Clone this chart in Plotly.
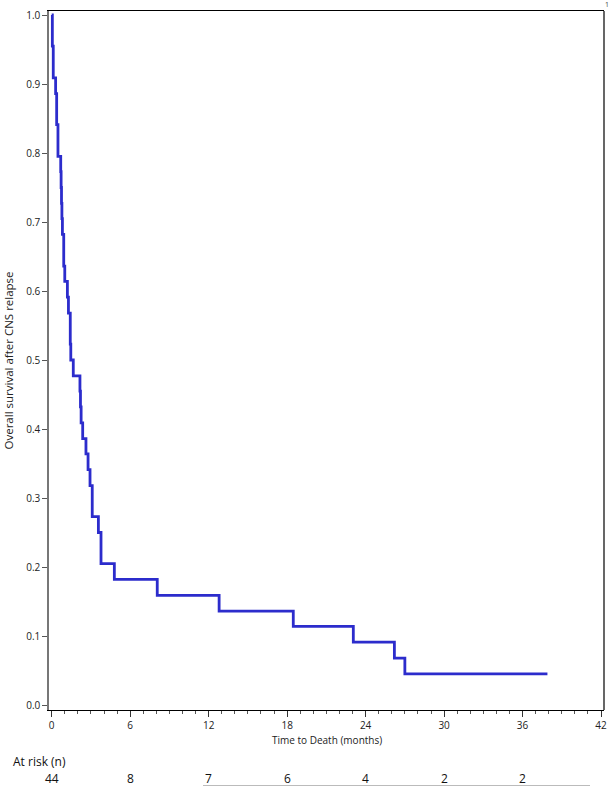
import plotly.graph_objects as go

# Kaplan-Meier step points (time in months, survival after event)
times = [0.0, 0.05, 0.12, 0.30, 0.38, 0.48, 0.69, 0.72, 0.75, 0.78, 0.82, 0.92, 1.00,
         1.20, 1.28, 1.42, 1.46, 1.65, 2.16, 2.20, 2.25, 2.37, 2.62, 2.78, 2.93, 3.10,
         3.57, 3.77, 4.79, 8.07, 12.80, 18.47, 23.06, 26.20, 27.00, 37.90]
survival = [1.000, 0.955, 0.909, 0.886, 0.841, 0.795, 0.773, 0.750, 0.727, 0.705, 0.682,
            0.636, 0.614, 0.591, 0.568, 0.523, 0.500, 0.477, 0.455, 0.432, 0.409, 0.386,
            0.364, 0.341, 0.318, 0.273, 0.250, 0.205, 0.182, 0.159, 0.136, 0.114, 0.091,
            0.068, 0.045, 0.045]

x_ticks = [0, 6, 12, 18, 24, 30, 36, 42]
y_ticks = [0.0, 0.1, 0.2, 0.3, 0.4, 0.5, 0.6, 0.7, 0.8, 0.9, 1.0]
risk_times = [0, 6, 12, 18, 24, 30, 36]
at_risk = [44, 8, 7, 6, 4, 2, 2]

FONT = "Open Sans"
H, W = 786, 610
ML, MR, MT, MB = 49, 6, 11, 76
PH = H - MT - MB
PW = W - ML - MR


def py(p):
    return (H - MB - p) / PH


def px(p):
    return (p - ML) / PW


fig = go.Figure()
fig.add_trace(go.Scatter(
    x=times, y=survival, mode="lines", line=dict(shape="hv", color="rgb(44,44,204)", width=2.8),
    showlegend=False, hoverinfo="skip"))

fig.update_layout(
    width=W, height=H,
    margin=dict(l=ML, r=MR, t=MT, b=MB, autoexpand=False),
    paper_bgcolor="white", plot_bgcolor="white",
    font=dict(family=FONT, size=10, color="#222"),
    xaxis=dict(range=[-0.206, 42.225], tickvals=x_ticks, ticktext=[str(v) for v in x_ticks],
               showgrid=False, zeroline=False, showline=True, linecolor="black", linewidth=1.2,
               mirror=True, ticks="outside", ticklen=6, tickcolor="#333", tickwidth=1,
               automargin=False,
               minor=dict(dtick=1, tick0=0, ticks="outside", ticklen=3, tickcolor="#555", showgrid=False),
               tickfont=dict(size=10, family=FONT)),
    yaxis=dict(range=[-0.00725, 1.0058], tickvals=y_ticks, ticktext=[f"{v:.1f}" for v in y_ticks],
               showgrid=False, zeroline=False, showline=True, linecolor="#777", linewidth=1.5,
               ticks="outside", ticklen=5, tickcolor="#555", tickwidth=1, automargin=False,
               tickfont=dict(size=10, family=FONT)),
)

# right border
fig.add_shape(type="line", xref="paper", yref="paper", x0=1, x1=1, y0=0, y1=1,
              line=dict(color="black", width=1.2))

# axis titles
fig.add_annotation(text="Time to Death (months)", xref="paper", yref="paper",
                   x=0.5, y=py(740), showarrow=False, font=dict(size=10, family=FONT),
                   xanchor="center", yanchor="middle")
fig.add_annotation(text="Overall survival after CNS relapse", xref="paper", yref="paper",
                   x=px(8), y=0.5, textangle=-90, showarrow=False,
                   font=dict(size=11.5, family=FONT), xanchor="center", yanchor="middle")

# at-risk table
fig.add_annotation(text="At risk (n)", xref="paper", yref="paper", x=px(11), y=py(761),
                   showarrow=False, xanchor="left", yanchor="middle",
                   font=dict(size=12, family=FONT, color="#111"))
for t, n in zip(risk_times, at_risk):
    fig.add_annotation(text=str(n), xref="x", yref="paper", x=t, y=py(778),
                       showarrow=False, xanchor="center", yanchor="middle",
                       font=dict(size=12, family=FONT, color="#111"))

fig.add_shape(type="line", xref="paper", yref="paper", x0=px(203), x1=px(590),
              y0=py(785.5), y1=py(785.5), line=dict(color="#bbb", width=1))

# page number
fig.add_annotation(text="1", xref="paper", yref="paper", x=px(607), y=py(4),
                   showarrow=False, xanchor="center", yanchor="middle",
                   font=dict(size=7, family=FONT, color="#444"))

fig.write_html("out.html", config={"displayModeBar": False},
               post_script="document.body.style.margin='0';document.body.style.overflow='hidden';")
